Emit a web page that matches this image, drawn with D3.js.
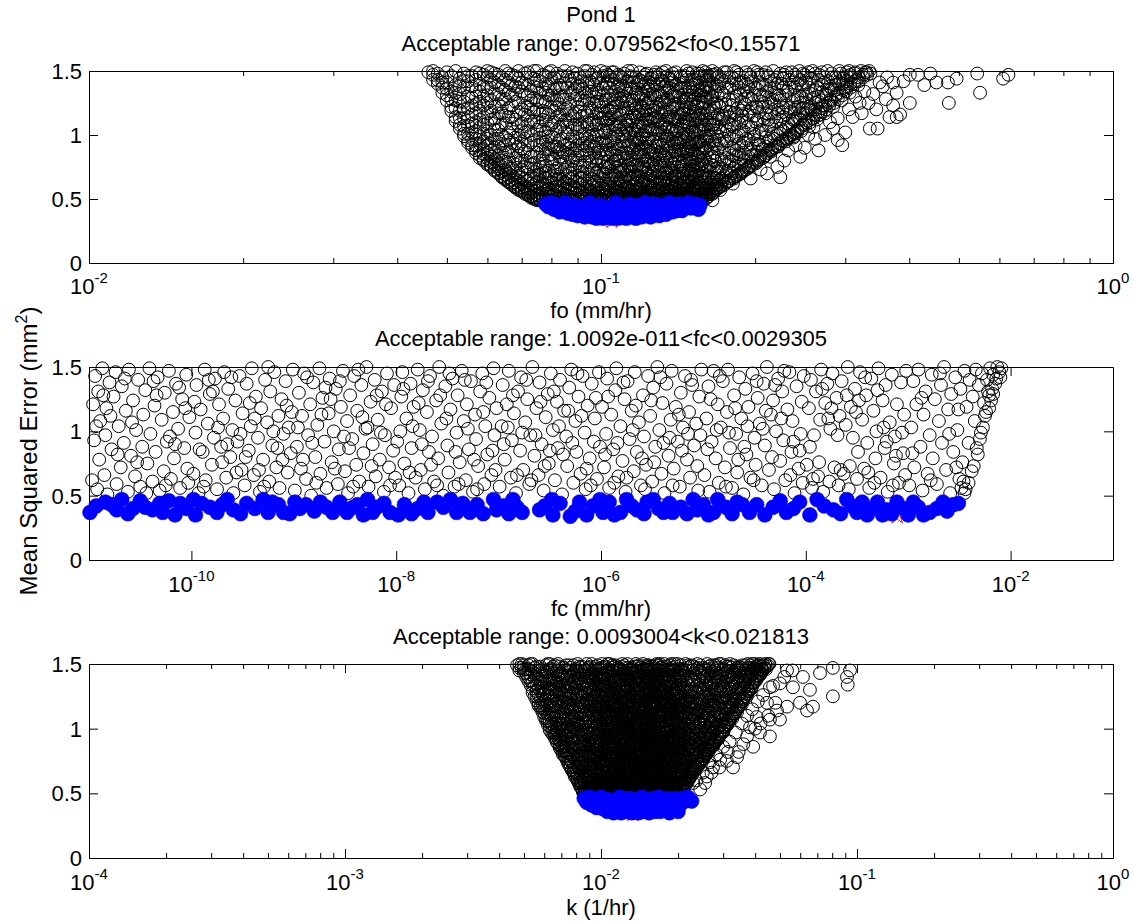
<!DOCTYPE html>
<html>
<head>
<meta charset="utf-8">
<script src="https://cdn.jsdelivr.net/npm/d3@7"></script>
<style>
  body { margin: 0; background: #fff; }
  svg { display: block; }
  text { font-family: "Liberation Sans", Arial, Helvetica, sans-serif; fill: #000; }
</style>
</head>
<body>
<svg id="chart" width="1135" height="923"></svg>
<script>
// ---------------------------------------------------------------------------
// Calibration results for Pond 1: every trial parameter set and its mean
// squared error. Flat pairs [parameter, MSE]; MSE is stored in 0.01 mm².
// ---------------------------------------------------------------------------
const MSE_UNIT = 0.01;
const yTickValues = [0, 0.5, 1, 1.5];
const yTickLabels = ["0", "0.5", "1", "1.5"];

// fo trials, fo stored in µm/hr (0.001 mm/hr)
const foTickExps = [-2, -1, 0];
const foTitle = "Acceptable range: 0.079562<fo<0.15571";
const foBlack = [
  46,149, 47,147, 47,150, 48,143, 48,148, 49,137, 49,145, 50,131, 50,141, 50,149,
  51,122, 51,134, 51,146, 52,114, 52,127, 52,139, 52,150, 53,108, 53,119, 53,132, 53,144,
  54,101, 54,113, 54,126, 54,137, 54,148, 55,96, 55,107, 55,121, 55,142,
  56,92, 56,102, 56,116, 56,129, 56,146, 57,88, 57,97, 57,110, 57,124, 57,135, 57,149,
  58,84, 58,93, 58,106, 58,119, 58,140, 59,81, 59,89, 59,101, 59,114, 59,130, 59,147,
  60,78, 60,86, 60,97, 60,109, 60,125, 60,137, 60,150, 61,76, 61,83, 61,93, 61,119, 61,143,
  62,73, 62,81, 62,90, 62,104, 62,113, 62,132, 62,148, 63,71, 63,78, 63,97, 63,124, 63,139,
  64,68, 64,75, 64,86, 64,100, 64,117, 64,128, 64,145, 65,66, 65,73, 65,92, 65,109, 65,135, 65,150,
  66,64, 66,70, 66,81, 66,96, 66,121, 66,141, 67,62, 67,68, 67,88, 67,105, 67,114, 67,131, 67,147,
  68,60, 68,66, 68,77, 68,93, 68,126, 68,138, 69,58, 69,64, 69,84, 69,100, 69,118, 69,144, 69,150,
  70,57, 70,62, 70,73, 70,89, 70,109, 70,134, 71,55, 71,60, 71,80, 71,97, 71,123, 71,140, 71,148,
  72,54, 72,58, 72,69, 72,86, 72,103, 72,115, 72,131, 73,52, 73,62, 73,77, 73,94, 73,127, 73,145,
  74,51, 74,56, 74,66, 74,83, 74,111, 74,138, 74,150, 75,50, 75,59, 75,73, 75,92, 75,104, 75,120, 75,143,
  76,49, 76,54, 76,64, 76,80, 76,98, 76,133, 77,49, 77,58, 77,70, 77,87, 77,112, 77,126, 77,147,
  78,50, 78,61, 78,76, 78,95, 78,118, 78,140, 79,49, 79,55, 79,67, 79,84, 79,105, 79,131, 79,149,
  80,52, 80,63, 80,79, 80,99, 80,122, 80,144, 81,49, 81,57, 81,72, 81,91, 81,110, 81,136,
  82,50, 82,60, 82,69, 82,86, 82,103, 82,127, 82,148, 83,48, 83,55, 83,77, 83,96, 83,116, 83,139,
  84,51, 84,65, 84,82, 84,108, 84,130, 84,146, 85,49, 85,58, 85,73, 85,92, 85,120, 85,150,
  86,53, 86,62, 86,85, 86,101, 86,112, 86,137, 87,49, 87,56, 87,70, 87,95, 87,125, 87,143,
  88,51, 88,67, 88,80, 88,106, 88,133, 88,149, 89,48, 89,59, 89,75, 89,89, 89,117, 89,128,
  90,50, 90,63, 91,71, 90,84, 91,97, 90,105, 91,118, 90,131, 91,139, 90,148, 91,55, 90,122,
  92,48, 93,58, 92,76, 93,88, 92,93, 93,110, 92,115, 93,127, 92,136, 93,146, 92,66, 93,101,
  94,52, 95,49, 94,69, 95,79, 94,86, 95,99, 94,108, 95,121, 94,129, 95,142, 94,150, 95,62,
  96,55, 97,50, 98,64, 96,73, 97,91, 98,100, 96,112, 97,124, 98,133, 96,141, 97,149, 98,82,
  99,48, 100,59, 101,70, 99,80, 100,94, 101,104, 99,117, 100,126, 101,137, 99,145, 100,150, 101,88,
  102,53, 103,49, 104,62, 102,75, 103,85, 104,96, 102,109, 103,119, 104,128, 102,140, 103,147, 104,113,
  105,51, 106,57, 107,68, 105,78, 106,90, 107,101, 105,114, 106,122, 107,134, 105,143, 106,149, 107,84,
  108,49, 109,60, 110,54, 108,72, 109,83, 110,95, 108,106, 109,116, 110,125, 108,138, 109,146, 110,131,
  111,52, 112,48, 113,63, 111,67, 112,80, 113,92, 111,99, 112,111, 113,121, 111,130, 112,142, 113,150,
  114,56, 115,50, 116,61, 114,74, 115,87, 116,98, 114,108, 115,117, 116,129, 114,136, 115,145, 116,81,
  117,49, 118,58, 119,52, 117,69, 118,77, 119,89, 117,103, 118,110, 119,123, 117,133, 118,141, 119,149,
  120,54, 121,48, 122,60, 120,71, 121,83, 122,94, 120,100, 121,115, 122,119, 120,128, 121,138, 122,147,
  123,51, 124,57, 125,49, 123,66, 124,79, 125,86, 123,97, 124,107, 125,116, 123,125, 124,136, 125,144,
  126,53, 127,48, 128,61, 126,70, 127,81, 128,92, 126,104, 127,113, 128,122, 126,132, 127,140, 128,149,
  129,50, 130,58, 131,52, 132,64, 129,73, 130,85, 131,96, 132,102, 129,111, 130,124, 131,131, 132,142, 130,147,
  133,49, 134,55, 135,62, 136,50, 133,76, 134,88, 135,99, 136,106, 133,118, 134,127, 135,135, 136,144, 134,150,
  137,52, 138,58, 139,49, 140,63, 137,72, 138,84, 139,93, 140,103, 137,112, 138,121, 139,130, 140,139, 138,148,
  141,50, 142,56, 143,66, 144,53, 141,75, 142,89, 143,97, 144,108, 141,117, 142,125, 143,136, 144,145,
  145,49, 146,57, 147,51, 148,61, 145,70, 146,81, 147,92, 148,100, 145,110, 146,120, 147,128, 148,138, 146,146, 147,150,
  149,53, 150,48, 151,59, 152,55, 149,67, 150,79, 151,88, 152,97, 149,106, 150,115, 151,126, 152,133, 150,143, 151,149,
  153,50, 154,57, 155,52, 156,62, 153,72, 154,84, 155,94, 156,103, 153,112, 154,122, 155,131, 156,141, 154,148,
  157,51, 158,56, 159,63, 160,54, 157,74, 158,86, 159,96, 160,107, 157,116, 158,125, 159,135, 160,143, 158,150,
  161,53, 163,58, 165,55, 162,66, 164,77, 161,88, 163,99, 165,108, 162,118, 164,128, 161,137, 163,146, 165,150,
  166,57, 168,61, 170,59, 167,70, 169,82, 166,93, 168,101, 170,113, 167,121, 169,131, 166,140, 168,148, 170,138,
  171,60, 173,64, 176,63, 172,74, 174,86, 176,95, 171,103, 173,115, 175,124, 172,133, 174,142, 176,149, 175,107,
  177,64, 179,68, 182,66, 178,79, 180,90, 182,99, 177,110, 179,118, 181,127, 178,137, 180,145, 182,150, 181,84,
  183,68, 185,72, 188,70, 184,83, 186,93, 188,104, 183,112, 185,121, 187,132, 184,140, 186,147, 188,126,
  189,72, 191,76, 194,74, 190,86, 192,97, 194,107, 189,115, 191,124, 193,134, 190,142, 192,149, 194,130,
  195,76, 198,79, 201,78, 196,89, 199,99, 201,110, 195,118, 197,128, 200,137, 196,145, 199,150, 201,122,
  202,80, 205,84, 208,83, 203,93, 206,104, 208,113, 202,121, 204,131, 207,139, 203,147, 206,126,
  209,84, 212,88, 215,87, 210,98, 213,107, 215,117, 209,125, 211,134, 214,142, 210,149, 213,129,
  216,89, 219,92, 222,91, 217,101, 220,111, 222,120, 216,128, 218,137, 221,145, 217,150, 220,132,
  223,93, 226,96, 230,95, 224,105, 227,114, 230,123, 223,131, 225,140, 228,147, 226,118,
  231,97, 234,100, 238,99, 232,109, 235,118, 238,127, 231,134, 233,143, 236,149, 237,112,
  239,101, 242,104, 246,103, 240,113, 243,122, 246,130, 239,137, 241,145, 244,150, 245,117,
  247,105, 251,108, 255,107, 248,117, 252,125, 255,133, 247,140, 250,147, 253,120,
  256,110, 260,113, 264,112, 257,121, 261,129, 264,137, 256,144, 259,150, 262,125,
  265,115, 269,118, 274,117, 266,126, 270,133, 273,141, 267,147, 271,123,
  275,120, 279,123, 284,122, 276,131, 280,138, 283,145, 277,150, 281,128,
  285,125, 290,128, 295,127, 286,135, 291,142, 294,148, 288,132,
  296,131, 301,134, 306,133, 297,140, 302,146, 305,150, 299,137,
  307,137, 312,140, 318,139, 309,145, 314,149, 316,143,
  319,142, 325,145, 331,147, 322,150, 328,149, 334,150, 336,148,
  47,143, 48,140, 49,133, 49,141, 50,127, 50,136, 51,119, 51,128, 52,111, 52,121, 52,133, 53,105, 53,113, 53,126, 53,138,
  54,99, 54,107, 54,120, 54,142, 55,94, 55,101, 55,114, 55,130, 55,146, 56,90, 56,97, 56,109, 56,123, 56,138,
  57,86, 57,92, 57,103, 57,117, 57,130, 57,143, 58,82, 58,88, 58,99, 58,112, 58,126, 58,134, 58,148,
  59,80, 59,85, 59,95, 59,108, 59,123, 59,138, 60,77, 60,82, 60,92, 60,103, 60,117, 60,131, 60,145,
  61,75, 61,79, 61,88, 61,100, 61,112, 61,127, 61,137, 61,149, 62,72, 62,77, 62,86, 62,97, 62,109, 62,122, 62,141,
  63,70, 63,74, 63,84, 63,91, 63,104, 63,117, 63,132, 63,147, 64,67, 64,72, 64,80, 64,93, 64,108, 64,122, 64,137,
  65,65, 65,69, 65,79, 65,86, 65,98, 65,115, 65,128, 65,143, 66,63, 66,67, 66,75, 66,87, 66,102, 66,114, 66,133, 66,148,
  67,61, 67,65, 67,74, 67,94, 67,109, 67,123, 67,139, 68,59, 68,63, 68,71, 68,82, 68,98, 68,112, 68,132, 68,146,
  69,57, 69,61, 69,70, 69,78, 69,91, 69,107, 69,125, 69,137, 70,56, 70,59, 70,67, 70,80, 70,95, 70,103, 70,120, 70,141,
  71,54, 71,58, 71,66, 71,75, 71,87, 71,102, 71,116, 71,131, 72,53, 72,56, 72,64, 72,74, 72,92, 72,108, 72,122, 72,139, 72,149,
  73,51, 73,55, 73,58, 73,66, 73,83, 73,100, 73,111, 73,120, 73,134, 74,50, 74,53, 74,61, 74,71, 74,78, 74,96, 74,118, 74,129, 74,144,
  75,49, 75,53, 75,63, 75,68, 75,86, 75,110, 75,127, 75,137, 75,150, 76,50, 76,52, 76,59, 76,69, 76,75, 76,92, 76,107, 76,116, 76,126, 76,142,
  77,51, 77,54, 77,62, 77,75, 77,82, 77,94, 77,104, 77,119, 77,136, 78,48, 78,54, 78,57, 78,66, 78,71, 78,89, 78,102, 78,111, 78,126, 78,133, 78,146,
  79,52, 79,58, 79,72, 79,89, 79,99, 79,116, 79,138, 80,49, 80,56, 80,68, 80,85, 80,92, 80,108, 80,131, 80,150,
  81,53, 81,62, 81,66, 81,81, 81,98, 81,119, 81,128, 81,145, 82,48, 82,56, 82,65, 82,74, 82,91, 82,114, 82,121, 82,137,
  83,52, 83,60, 83,66, 83,83, 83,89, 83,106, 83,124, 83,131, 83,145, 84,48, 84,55, 84,60, 84,71, 84,87, 84,97, 84,116, 84,137,
  85,52, 85,54, 85,63, 85,79, 85,86, 85,102, 85,111, 85,128, 85,140, 86,48, 86,57, 86,68, 86,75, 86,93, 86,106, 86,121, 86,146,
  87,52, 87,61, 87,66, 87,83, 87,90, 87,110, 87,117, 87,132, 88,49, 88,55, 88,58, 88,73, 88,88, 88,99, 88,115, 88,140,
  89,51, 89,55, 89,64, 89,82, 89,95, 89,108, 89,136, 89,144, 90,53, 90,57, 90,68, 90,78, 90,92, 90,112, 90,138,
  91,49, 91,61, 91,66, 91,76, 91,88, 91,107, 91,128, 91,145, 92,51, 92,55, 92,62, 92,71, 92,84, 92,99, 92,106, 92,124, 92,142,
  93,50, 93,53, 93,64, 93,79, 93,94, 93,118, 93,133, 93,150, 94,48, 94,56, 94,60, 94,74, 94,91, 94,97, 94,115, 94,140,
  95,53, 95,57, 95,67, 95,84, 95,92, 95,109, 95,127, 95,134, 96,49, 96,52, 96,60, 96,66, 96,80, 96,95, 96,104, 96,119, 96,134, 96,147,
  97,53, 97,56, 97,63, 97,73, 97,86, 97,98, 97,110, 97,130, 97,139, 98,48, 98,52, 98,59, 98,70, 98,77, 98,93, 98,108, 98,117, 98,126, 98,144,
  99,51, 99,55, 99,62, 99,68, 99,86, 99,99, 99,109, 99,123, 99,133, 100,49, 100,52, 100,66, 100,72, 100,82, 100,88, 100,103, 100,113, 100,119, 100,140,
  101,50, 101,54, 101,58, 101,65, 101,79, 101,96, 101,113, 101,122, 101,131, 101,146, 102,48, 102,57, 102,62, 102,69, 102,85, 102,93, 102,102, 102,117, 102,127, 102,149,
  103,52, 103,55, 103,61, 103,74, 103,79, 103,92, 103,107, 103,112, 103,133, 103,141, 104,50, 104,53, 104,57, 104,68, 104,75, 104,89, 104,103, 104,119, 104,137, 104,146,
  105,48, 105,55, 105,59, 105,66, 105,72, 105,86, 105,95, 105,108, 105,121, 105,131, 105,149, 106,50, 106,53, 106,62, 106,69, 106,79, 106,97, 106,108, 106,116, 106,128, 106,140,
  107,48, 107,55, 107,59, 107,75, 107,80, 107,93, 107,107, 107,118, 107,127, 107,145, 108,52, 108,56, 108,62, 108,66, 108,80, 108,89, 108,99, 108,113, 108,125, 108,132, 108,147,
  109,50, 109,54, 109,65, 109,71, 109,76, 109,91, 109,104, 109,110, 109,128, 109,139, 110,48, 110,51, 110,58, 110,64, 110,72, 110,86, 110,101, 110,117, 110,138, 110,145,
  111,49, 111,56, 111,60, 111,73, 111,82, 111,91, 111,106, 111,121, 111,136, 111,148, 112,51, 112,54, 112,59, 112,69, 112,75, 112,86, 112,96, 112,104, 112,117, 112,127, 112,135,
  113,49, 113,53, 113,59, 113,68, 113,76, 113,86, 113,101, 113,112, 113,128, 113,142, 114,48, 114,51, 114,60, 114,66, 114,81, 114,92, 114,101, 114,114, 114,124, 114,146,
  115,53, 115,57, 115,66, 115,71, 115,77, 115,94, 115,104, 115,111, 115,127, 115,137, 115,150, 116,48, 116,51, 116,56, 116,67, 116,75, 116,89, 116,104, 116,115, 116,123, 116,141,
  117,53, 117,56, 117,62, 117,76, 117,82, 117,92, 117,97, 117,114, 117,121, 117,145, 118,50, 118,53, 118,63, 118,68, 118,86, 118,94, 118,104, 118,118, 118,131, 118,136,
  119,48, 119,56, 119,60, 119,67, 119,74, 119,83, 119,97, 119,107, 119,116, 119,129, 119,143, 120,51, 120,58, 120,64, 120,77, 120,87, 120,93, 120,109, 120,122, 120,133, 120,142,
  121,52, 121,55, 121,63, 121,75, 121,89, 121,100, 121,107, 121,121, 121,131, 121,145, 122,50, 122,53, 122,65, 122,73, 122,80, 122,90, 122,103, 122,112, 122,127, 122,140,
  123,48, 123,55, 123,61, 123,70, 123,80, 123,91, 123,103, 123,112, 123,119, 123,134, 123,148, 124,50, 124,53, 124,63, 124,69, 124,74, 124,87, 124,97, 124,112, 124,125, 124,141,
  125,52, 125,55, 125,59, 125,68, 125,78, 125,91, 125,105, 125,111, 125,129, 125,138, 126,48, 126,50, 126,58, 126,63, 126,77, 126,85, 126,97, 126,113, 126,122, 126,145,
  127,51, 127,55, 127,66, 127,74, 127,88, 127,95, 127,105, 127,119, 127,131, 127,147, 128,49, 128,53, 128,57, 128,67, 128,76, 128,84, 128,101, 128,114, 128,129, 128,139,
  129,53, 129,56, 129,62, 129,68, 129,81, 129,91, 129,104, 129,118, 129,134, 129,145, 130,49, 130,52, 130,63, 130,71, 130,78, 130,94, 130,101, 130,112, 130,131, 130,140,
  131,48, 131,61, 131,66, 131,76, 131,87, 131,106, 131,117, 131,126, 131,143, 132,50, 132,54, 132,58, 132,70, 132,80, 132,92, 132,109, 132,121, 132,133, 132,149,
  133,52, 133,56, 133,63, 133,70, 133,84, 133,95, 133,106, 133,125, 133,138, 134,49, 134,60, 134,67, 134,72, 134,82, 134,99, 134,112, 134,120, 134,139,
  135,50, 135,53, 135,57, 135,70, 135,81, 135,92, 135,106, 135,114, 135,128, 135,146, 136,53, 136,56, 136,65, 136,74, 136,86, 136,97, 136,114, 136,124, 136,137,
  137,48, 137,56, 137,60, 137,66, 137,80, 137,91, 137,103, 137,118, 137,133, 137,143, 138,50, 138,53, 138,63, 138,70, 138,78, 138,95, 138,104, 138,113, 138,131, 138,141,
  139,52, 139,55, 139,58, 139,68, 139,77, 139,87, 139,101, 139,113, 139,124, 139,145, 140,49, 140,57, 140,68, 140,81, 140,88, 140,97, 140,112, 140,124, 140,130, 140,149,
  141,53, 141,56, 141,63, 141,68, 141,84, 141,94, 141,104, 141,111, 141,134, 142,49, 142,52, 142,60, 142,72, 142,79, 142,94, 142,114, 142,131, 142,140,
  143,49, 143,54, 143,61, 143,75, 143,85, 143,92, 143,105, 143,116, 143,129, 143,146, 144,50, 144,58, 144,63, 144,70, 144,78, 144,88, 144,100, 144,121, 144,137,
  145,52, 145,58, 145,62, 145,76, 145,87, 145,95, 145,104, 145,117, 145,126, 145,141, 146,51, 146,54, 146,64, 146,73, 146,89, 146,101, 146,113, 146,126, 146,137,
  147,48, 147,55, 147,60, 147,68, 147,80, 147,87, 147,99, 147,110, 147,122, 147,143, 148,50, 148,53, 148,65, 148,72, 148,87, 148,94, 148,107, 148,116, 148,131, 148,148,
  149,48, 149,56, 149,62, 149,74, 149,81, 149,94, 149,112, 149,121, 149,136, 150,51, 150,55, 150,63, 150,70, 150,85, 150,91, 150,102, 150,124, 150,131,
  151,50, 151,54, 151,66, 151,73, 151,79, 151,95, 151,103, 151,112, 151,137, 152,48, 152,51, 152,58, 152,69, 152,77, 152,85, 152,102, 152,118, 152,128, 152,143,
  153,53, 153,56, 153,60, 153,67, 153,81, 153,93, 153,101, 153,118, 153,129, 153,140, 154,49, 154,53, 154,61, 154,69, 154,77, 154,94, 154,107, 154,114, 154,135,
  155,50, 155,56, 155,63, 155,74, 155,83, 155,89, 155,104, 155,115, 155,125, 155,145, 156,49, 156,53, 156,57, 156,68, 156,77, 156,86, 156,95, 156,113, 156,127, 156,135, 156,148,
  157,49, 157,54, 157,59, 157,68, 157,80, 157,92, 157,103, 157,111, 157,131, 157,146, 158,50, 158,53, 158,61, 158,70, 158,78, 158,92, 158,108, 158,117, 158,137,
  159,52, 159,55, 159,58, 159,68, 159,81, 159,89, 159,104, 159,121, 159,130, 159,146, 160,50, 160,58, 160,66, 160,76, 160,90, 160,99, 160,115, 160,126, 160,138, 160,149,
  161,51, 161,59, 161,72, 161,97, 161,112, 161,129, 161,146, 162,52, 162,61, 162,75, 162,92, 162,104, 162,133, 162,143, 163,54, 163,67, 163,82, 163,110, 163,122, 163,139,
  164,56, 164,63, 164,71, 164,89, 164,104, 164,117, 164,136, 164,147, 165,54, 165,61, 165,83, 165,95, 165,119, 165,130, 166,55, 166,66, 166,76, 166,86, 166,108, 166,124, 166,147,
  167,57, 167,63, 167,80, 167,96, 167,113, 167,134, 168,58, 168,66, 168,74, 168,92, 168,108, 168,125, 168,139, 169,58, 169,61, 169,71, 169,89, 169,99, 169,116, 169,145,
  170,59, 170,64, 170,75, 170,96, 170,106, 170,123, 170,146, 172,60, 172,66, 172,81, 172,93, 172,112, 172,125, 172,143, 174,61, 174,68, 174,79, 174,97, 174,113, 174,131, 174,149,
  176,63, 176,71, 176,82, 176,103, 176,118, 176,137, 178,64, 178,72, 178,86, 178,100, 178,114, 178,128, 178,145, 180,66, 180,70, 180,80, 180,97, 180,108, 180,123, 180,139,
  182,67, 182,74, 182,89, 182,106, 182,117, 182,133, 182,144, 184,68, 184,76, 184,88, 184,99, 184,116, 184,130, 184,149, 186,69, 186,78, 186,85, 186,100, 186,109, 186,137,
  188,71, 188,77, 188,92, 188,111, 188,119, 188,141, 190,72, 190,80, 190,94, 190,103, 190,121, 190,135, 192,73, 192,79, 192,90, 192,110, 192,128, 192,140,
  194,75, 194,83, 194,96, 194,116, 194,138, 194,147, 197,76, 197,84, 197,93, 197,106, 197,121, 197,142, 199,78, 199,85, 199,101, 199,115, 199,131,
  202,79, 202,87, 202,96, 202,112, 202,136, 202,149, 204,81, 204,92, 204,102, 204,118, 204,141, 207,82, 207,89, 207,108, 207,122, 207,131, 207,147,
  210,84, 210,91, 210,103, 210,117, 210,139, 212,86, 212,95, 212,112, 212,122, 212,146, 215,88, 215,96, 215,108, 215,125, 215,136,
  218,90, 218,97, 218,114, 218,124, 218,143, 221,91, 221,100, 221,117, 221,131, 221,140, 224,93, 224,101, 224,112, 224,127, 224,148,
  227,95, 227,103, 227,121, 227,137, 227,144, 230,97, 230,106, 230,116, 230,131, 230,149, 233,98, 233,104, 233,121, 233,137,
  236,100, 236,109, 236,126, 236,141, 239,102, 239,111, 239,120, 239,131, 239,147, 242,103, 242,114, 242,129, 242,140,
  245,106, 245,112, 245,125, 245,143, 248,108, 248,121, 248,135, 248,148, 251,110, 251,117, 251,130, 251,141, 254,111, 254,122, 254,137, 254,149,
  258,113, 258,119, 258,132, 258,144, 262,116, 262,120, 262,135, 262,148, 266,118, 266,130, 266,143, 270,121, 270,127, 270,139, 270,149,
  274,123, 274,132, 274,145, 278,125, 278,135, 278,142, 282,127, 282,136, 282,148, 287,130, 287,139, 287,145, 292,133, 292,140, 292,150,
  297,135, 297,144, 302,138, 302,142, 302,149, 307,140, 307,147, 313,142, 313,148, 319,145, 325,147, 330,149,
  // sparse runs above the main cloud
  224,67, 245,83, 232,88, 266,88, 240,92, 254,100, 274,100, 284,105, 296,92, 300,102,
  290,96, 310,114, 335,105, 347,105, 323,117, 333,125, 345,120, 366,114, 378,114, 384,116,
  372,123, 378,133, 372,141, 362,145, 401,125, 401,147, 416,147, 428,139, 452,141, 476,141,
  495,144, 478,125, 543,148, 550,133, 610,144, 625,147, 314,130, 327,134, 350,141, 268,116,
  260,106, 280,110, 238,98, 214,83, 211,70, 221,75, 181,62, 171,57, 165,49, 196,66,
  205,73, 228,80, 250,90, 262,97, 290,113, 305,120, 320,125, 340,132, 355,138, 390,142,
  440,148, 360,128
];
const foBlue = [
  78,46, 79,44, 80,47, 81,42, 82,45, 83,40, 84,43, 85,47, 86,39, 87,42, 88,38, 89,45,
  90,37, 91,41, 92,44, 93,36, 94,39, 95,47, 96,36, 97,42, 98,35, 99,38, 100,45, 101,35,
  102,40, 103,36, 104,43, 105,35, 106,38, 107,47, 108,35, 109,41, 110,36, 111,44, 112,35,
  113,39, 114,46, 115,36, 116,42, 117,35, 118,38, 119,45, 120,36, 121,41, 122,47, 123,37,
  124,43, 125,36, 126,39, 127,46, 128,38, 129,42, 130,37, 131,45, 132,40, 134,38, 135,43,
  136,47, 138,40, 139,44, 141,41, 142,46, 144,41, 146,44, 148,47, 150,43, 153,46, 156,45, 155,42
];
const foBest = [0.105, 0.335];   // fo (mm/hr), MSE (mm²)

// fc trials, stored as log10 of fc (mm/hr)
const fcTickExps = [-10, -8, -6, -4, -2];
const fcTitle = "Acceptable range: 1.0092e-011<fc<0.0029305";
const fcLogBlack = [
  -10.97,62, -10.95,93, -10.96,121, -10.94,143, -10.92,55, -10.90,78, -10.89,108, -10.91,131, -10.87,149, -10.85,66,
  -10.84,97, -10.83,118, -10.80,138, -10.82,51, -10.78,86, -10.76,127, -10.74,146, -10.73,59, -10.71,104, -10.69,72,
  -10.68,135, -10.66,91, -10.64,116, -10.62,53, -10.61,148, -10.59,81, -10.57,124, -10.55,65, -10.54,101, -10.52,140,
  -10.50,57, -10.48,88, -10.47,113, -10.45,132, -10.43,75, -10.41,149, -10.40,98, -10.38,61, -10.36,120, -10.35,84,
  -10.33,142, -10.31,54, -10.29,109, -10.27,69, -10.26,130, -10.24,92, -10.22,147, -10.20,63, -10.18,115, -10.17,79,
  -10.15,137, -10.13,102, -10.11,56, -10.09,125, -10.07,87, -10.05,144, -10.04,71, -10.02,111, -10.93,104, -10.79,112,
  -10.65,141, -10.58,107, -10.44,52, -10.34,128, -10.21,96, -10.12,134, -10.03,60, -10.86,128, -10.72,82, -10.53,76,
  -10.37,139, -10.25,58, -10.16,90, -10.06,118,
  -9.98,67, -9.96,99, -9.95,136, -9.93,52, -9.91,117, -9.89,84, -9.87,148, -9.86,62, -9.84,106, -9.82,129,
  -9.80,74, -9.78,95, -9.77,141, -9.75,55, -9.73,121, -9.71,88, -9.69,110, -9.68,146, -9.66,64, -9.64,133,
  -9.62,80, -9.60,101, -9.59,52, -9.57,124, -9.55,92, -9.53,143, -9.51,70, -9.50,114, -9.48,58, -9.46,137,
  -9.44,85, -9.42,104, -9.41,149, -9.39,66, -9.37,127, -9.35,95, -9.33,53, -9.32,118, -9.30,78, -9.28,140,
  -9.26,107, -9.24,61, -9.23,131, -9.21,89, -9.19,146, -9.17,72, -9.15,112, -9.14,56, -9.12,125, -9.10,98,
  -9.08,139, -9.06,68, -9.05,103, -9.03,83, -9.01,148, -9.97,123, -9.88,57, -9.79,131, -9.70,76, -9.61,142,
  -9.52,98, -9.43,122, -9.34,70, -9.25,150, -9.16,87, -9.07,120, -9.92,86, -9.83,140, -9.74,103, -9.65,90,
  -9.56,68, -9.47,80, -9.38,110, -9.29,57, -9.20,100, -9.11,78, -9.02,115,
  -8.99,54, -8.97,88, -8.95,130, -8.93,71, -8.92,112, -8.90,145, -8.88,63, -8.86,97, -8.84,121, -8.83,50,
  -8.81,138, -8.79,80, -8.77,105, -8.75,149, -8.74,67, -8.72,126, -8.70,92, -8.68,56, -8.66,114, -8.65,141,
  -8.63,76, -8.61,100, -8.59,133, -8.57,59, -8.56,86, -8.54,119, -8.52,147, -8.50,69, -8.48,108, -8.47,52,
  -8.45,128, -8.43,94, -8.41,143, -8.39,74, -8.38,116, -8.36,61, -8.34,136, -8.32,83, -8.30,102, -8.29,150,
  -8.27,57, -8.25,123, -8.23,90, -8.21,140, -8.20,65, -8.18,109, -8.16,78, -8.14,131, -8.12,53, -8.11,97,
  -8.09,145, -8.07,72, -8.05,118, -8.03,85, -8.02,136, -8.96,103, -8.87,142, -8.78,60, -8.69,134, -8.60,71,
  -8.51,96, -8.42,57, -8.33,111, -8.24,73, -8.15,99, -8.06,58, -8.91,78, -8.82,91, -8.73,113, -8.64,125,
  -8.55,139, -8.46,87, -8.37,148, -8.28,103, -8.19,128, -8.10,121, -8.01,64,
  -7.99,92, -7.97,58, -7.95,127, -7.94,146, -7.92,75, -7.90,110, -7.88,52, -7.86,137, -7.85,87, -7.83,119,
  -7.81,64, -7.79,148, -7.77,101, -7.76,70, -7.74,132, -7.72,55, -7.70,115, -7.68,84, -7.67,143, -7.65,96,
  -7.63,61, -7.61,124, -7.59,79, -7.58,150, -7.56,106, -7.54,50, -7.52,135, -7.50,89, -7.49,68, -7.47,117,
  -7.45,141, -7.43,57, -7.41,99, -7.40,128, -7.38,76, -7.36,147, -7.34,108, -7.32,62, -7.31,121, -7.29,86,
  -7.27,139, -7.25,53, -7.23,113, -7.22,94, -7.20,73, -7.18,131, -7.16,145, -7.14,59, -7.13,104, -7.11,82,
  -7.09,126, -7.07,66, -7.05,149, -7.04,97, -7.02,118, -7.96,100, -7.87,68, -7.78,122, -7.69,139, -7.60,58,
  -7.51,110, -7.42,84, -7.33,140, -7.24,78, -7.15,115, -7.06,85, -7.93,133, -7.84,104, -7.75,90, -7.66,74,
  -7.57,128, -7.48,145, -7.39,59, -7.30,102, -7.21,55, -7.12,138, -7.03,70,
  -6.99,57, -6.97,104, -6.96,136, -6.94,78, -6.92,121, -6.90,147, -6.88,64, -6.87,93, -6.85,114, -6.83,52,
  -6.81,131, -6.79,85, -6.78,142, -6.76,70, -6.74,107, -6.72,125, -6.70,59, -6.69,97, -6.67,150, -6.65,81,
  -6.63,118, -6.61,66, -6.60,138, -6.58,90, -6.56,54, -6.54,111, -6.52,129, -6.51,75, -6.49,145, -6.47,101,
  -6.45,62, -6.43,123, -6.42,87, -6.40,140, -6.38,51, -6.36,116, -6.34,96, -6.33,73, -6.31,134, -6.29,148,
  -6.27,60, -6.25,108, -6.24,84, -6.22,127, -6.20,67, -6.18,143, -6.16,99, -6.15,55, -6.13,120, -6.11,79,
  -6.09,137, -6.07,92, -6.06,110, -6.04,63, -6.02,146, -6.95,90, -6.86,128, -6.77,99, -6.68,62, -6.59,123,
  -6.50,85, -6.41,104, -6.32,116, -6.23,145, -6.14,71, -6.05,126, -6.91,103, -6.82,66, -6.73,140, -6.64,97,
  -6.55,73, -6.46,131, -6.37,82, -6.28,91, -6.19,112, -6.10,58, -6.01,88,
  -5.99,119, -5.97,72, -5.95,98, -5.94,141, -5.92,56, -5.90,113, -5.88,86, -5.86,132, -5.85,149, -5.83,65,
  -5.81,104, -5.79,77, -5.77,125, -5.76,53, -5.74,139, -5.72,94, -5.70,116, -5.68,69, -5.67,146, -5.65,84,
  -5.63,107, -5.61,58, -5.59,128, -5.58,96, -5.56,74, -5.54,143, -5.52,112, -5.50,61, -5.49,134, -5.47,88,
  -5.45,150, -5.43,101, -5.41,67, -5.40,122, -5.38,52, -5.36,137, -5.34,81, -5.32,109, -5.31,147, -5.29,71,
  -5.27,119, -5.25,92, -5.23,57, -5.22,130, -5.20,103, -5.18,143, -5.16,78, -5.14,115, -5.13,64, -5.11,136,
  -5.09,89, -5.07,106, -5.05,54, -5.04,127, -5.02,148, -5.96,82, -5.87,60, -5.78,138, -5.69,101, -5.60,79,
  -5.51,124, -5.42,142, -5.33,95, -5.24,113, -5.15,98, -5.06,73, -5.93,127, -5.84,91, -5.75,64, -5.66,120,
  -5.57,55, -5.48,76, -5.39,91, -5.30,58, -5.21,85, -5.12,140, -5.03,97,
  -4.99,66, -4.97,110, -4.95,135, -4.94,53, -4.92,92, -4.90,147, -4.88,79, -4.86,121, -4.85,60, -4.83,103,
  -4.81,139, -4.79,72, -4.77,115, -4.76,148, -4.74,87, -4.72,56, -4.70,128, -4.68,98, -4.67,68, -4.65,142,
  -4.63,110, -4.61,51, -4.59,133, -4.58,82, -4.56,119, -4.54,64, -4.52,145, -4.50,95, -4.49,74, -4.47,126,
  -4.45,106, -4.43,58, -4.41,137, -4.40,89, -4.38,150, -4.36,70, -4.34,113, -4.32,124, -4.31,55, -4.29,100,
  -4.27,141, -4.25,77, -4.23,131, -4.22,93, -4.20,62, -4.18,117, -4.16,146, -4.14,84, -4.13,108, -4.11,52,
  -4.09,135, -4.07,71, -4.05,98, -4.04,123, -4.02,143, -4.96,86, -4.87,101, -4.78,57, -4.69,118, -4.60,88,
  -4.51,62, -4.42,102, -4.33,80, -4.24,110, -4.15,66, -4.06,85, -4.93,125, -4.84,143, -4.75,99, -4.66,78,
  -4.57,104, -4.48,139, -4.39,116, -4.30,136, -4.21,147, -4.12,92, -4.03,60,
  -3.99,74, -3.97,118, -3.95,140, -3.94,56, -3.92,97, -3.90,131, -3.88,65, -3.86,109, -3.85,148, -3.83,53,
  -3.81,122, -3.79,137, -3.77,61, -3.76,102, -3.74,145, -3.72,72, -3.70,126, -3.68,58, -3.67,112, -3.65,139,
  -3.63,67, -3.61,105, -3.59,150, -3.58,55, -3.56,119, -3.54,95, -3.52,133, -3.50,63, -3.49,84, -3.47,146,
  -3.45,109, -3.43,71, -3.41,128, -3.40,91, -3.38,56, -3.36,141, -3.34,116, -3.32,79, -3.31,100, -3.29,149,
  -3.27,64, -3.25,124, -3.23,87, -3.22,136, -3.20,53, -3.18,107, -3.16,144, -3.14,75, -3.13,96, -3.11,121,
  -3.09,60, -3.07,138, -3.05,83, -3.04,113, -3.02,147, -3.96,88, -3.87,76, -3.78,110, -3.69,97, -3.60,128,
  -3.51,115, -3.42,142, -3.33,60, -3.24,103, -3.15,58, -3.06,99, -3.93,63, -3.84,133, -3.75,118, -3.66,70,
  -3.57,73, -3.48,124, -3.39,68, -3.30,132, -3.21,92, -3.12,81, -3.03,66,
  -2.99,58, -2.97,103, -2.95,139, -2.94,72, -2.92,121, -2.90,148, -2.88,88, -2.86,54, -2.85,113, -2.83,131,
  -2.81,67, -2.79,97, -2.77,144, -2.76,79, -2.74,125, -2.72,59, -2.70,108, -2.68,136, -2.67,91, -2.65,150,
  -2.63,70, -2.61,117, -2.59,52, -2.58,129, -2.56,84, -2.54,142, -2.52,101, -2.50,63, -2.49,133, -2.47,76,
  -2.45,147, -2.44,55, -2.43,119, -2.41,91, -2.40,140, -2.38,69, -2.37,127, -2.35,108, -2.34,148, -2.32,82,
  -2.31,136, -2.29,99, -2.28,145, -2.26,122, -2.25,112, -2.23,140, -2.22,131, -2.20,149, -2.19,124, -2.17,144,
  -2.15,137, -2.13,150, -2.11,146, -2.10,142, -2.48,56, -2.46,61, -2.45,52, -2.41,60, -2.36,73, -2.33,87,
  -2.30,94, -2.27,103, -2.24,115, -2.21,128, -2.18,133, -2.21,118, -2.14,141, -2.17,129, -2.09,149, -2.96,83,
  -2.87,126, -2.78,62, -2.69,145, -2.60,98, -2.51,117, -2.53,72
];
const fcLogBlue = [
  -10.99,37, -10.84,45, -10.73,39, -10.68,47, -10.57,40, -10.45,41, -10.31,44, -10.28,37, -10.16,35, -10.11,44,
  -9.98,47, -9.96,35, -9.82,41, -9.75,37, -9.65,47, -9.59,39, -9.46,44, -9.30,47, -9.21,45, -9.10,37,
  -8.94,40, -8.99,45, -8.74,45, -8.62,37, -8.55,45, -8.48,37, -8.38,43, -8.28,47, -8.23,37, -8.19,41,
  -8.06,37, -7.98,35, -7.79,40, -7.69,37, -7.60,45, -7.47,47, -7.41,37, -7.28,37, -7.21,43, -7.05,47,
  -7.02,39, -6.86,47, -6.77,37, -6.60,39, -6.48,47, -6.47,35, -6.30,34, -6.21,45, -6.14,35, -6.01,47,
  -5.98,37, -5.81,37, -5.75,47, -5.65,39, -5.49,47, -5.39,37, -5.33,44, -5.30,37, -5.10,47, -5.06,39,
  -4.90,37, -4.86,47, -4.67,45, -4.55,37, -4.48,43, -4.32,41, -4.19,37, -4.06,45, -3.96,35, -3.89,47,
  -3.73,39, -3.60,47, -3.50,37, -3.40,35, -3.30,45, -3.21,39, -3.11,45, -2.95,45, -2.85,35, -2.79,37,
  -2.66,45, -2.56,43,
  -10.93,42, -10.78,43, -10.62,36, -10.50,46, -10.38,39, -10.22,46, -10.05,40, -9.90,44, -9.70,43, -9.52,36,
  -9.38,40, -9.25,37, -9.15,43, -9.04,36, -8.88,43, -8.80,38, -8.68,41, -8.42,41, -8.32,35, -8.12,44,
  -7.92,43, -7.85,36, -7.73,45, -7.54,41, -7.35,44, -7.15,36, -6.95,42, -6.90,36, -6.82,41, -6.55,42,
  -6.40,44, -6.25,38, -6.08,42, -5.92,45, -5.87,35, -5.70,42, -5.58,36, -5.55,45, -5.44,40, -5.22,41,
  -5.16,36, -5.00,43, -4.95,35, -4.78,41, -4.72,36, -4.62,43, -4.40,35, -4.25,46, -4.12,40, -3.82,42,
  -3.66,36, -3.55,42, -3.45,45, -3.35,40, -3.25,35, -3.16,36, -3.05,40, -3.00,35, -2.90,41, -2.72,40,
  -2.62,38, -2.51,44
];
const fcBest = [7.8e-4, 0.345];   // fc (mm/hr), MSE (mm²)

// k trials, k stored in 1e-4 1/hr
const kTickExps = [-4, -3, -2, -1, 0];
const kTitle = "Acceptable range: 0.0093004<k<0.021813";
const kBlack = [
  47,149, 48,150, 49,147, 48,145, 50,143, 50,149, 51,140, 51,146, 52,137, 52,146, 53,134, 53,142, 53,150,
  54,131, 55,139, 56,125, 55,147, 54,144, 56,134, 57,120, 58,129, 59,116, 57,138, 58,148, 59,141, 58,118, 59,132,
  60,112, 61,122, 62,106, 60,131, 61,144, 62,137, 61,108, 62,150, 60,126,
  63,102, 64,114, 65,98, 66,96, 63,125, 64,140, 65,133, 66,119, 65,148, 63,146, 66,108, 64,104,
  67,92, 68,101, 69,87, 70,86, 67,117, 68,130, 69,142, 70,110, 68,150, 69,124, 70,135, 67,104, 70,98,
  71,83, 72,95, 73,79, 74,77, 71,108, 72,120, 73,138, 74,101, 72,147, 73,116, 74,129, 71,133, 74,145, 73,90,
  75,74, 76,86, 77,68, 78,67, 75,97, 76,113, 77,127, 78,89, 76,141, 77,103, 78,119, 75,149, 78,136, 77,80, 75,123,
  79,65, 80,76, 81,60, 82,58, 79,94, 80,109, 81,122, 82,83, 80,139, 81,99, 82,115, 79,131, 82,148, 80,70, 81,144,
  83,55, 84,68, 85,51, 86,49, 83,86, 84,104, 85,118, 86,75, 84,135, 85,92, 86,128, 83,147, 86,111, 85,62, 84,142,
  87,50, 88,63, 89,53, 90,57, 87,79, 88,98, 89,114, 90,87, 88,131, 89,72, 90,122, 87,145, 90,106, 89,139, 88,150,
  91,49, 92,60, 93,52, 94,66, 91,84, 92,102, 93,117, 94,91, 92,126, 93,76, 94,137, 91,148, 94,110, 93,143,
  95,51, 96,56, 97,63, 98,49, 95,80, 96,96, 97,112, 98,87, 96,124, 97,74, 98,132, 95,141, 98,105, 97,149,
  99,54, 100,50, 101,61, 102,57, 99,77, 100,92, 101,108, 102,84, 100,121, 101,70, 102,135, 99,146, 102,99, 100,140, 101,128,
  103,49, 104,55, 105,64, 107,51, 103,81, 104,95, 106,113, 107,89, 104,127, 105,73, 107,138, 103,147, 106,104, 105,119, 106,150,
  108,53, 109,48, 110,59, 112,55, 108,76, 110,99, 111,115, 112,85, 109,125, 111,68, 112,136, 108,144, 110,108, 109,131,
  113,50, 114,57, 115,63, 117,52, 113,82, 114,97, 116,111, 117,90, 115,124, 116,72, 117,140, 113,148, 115,104, 114,133,
  118,55, 119,49, 120,60, 122,54, 118,78, 120,94, 121,110, 122,86, 119,120, 121,70, 122,134, 118,145, 120,101, 119,139, 121,150,
  123,51, 124,58, 125,49, 127,62, 123,75, 125,93, 126,107, 127,84, 124,118, 126,69, 127,129, 123,142, 125,100, 126,137, 124,149,
  128,54, 130,50, 131,57, 133,53, 128,81, 130,96, 132,113, 133,88, 129,123, 131,71, 133,132, 128,147, 130,106, 132,140,
  134,49, 136,56, 137,62, 139,51, 134,77, 136,92, 138,109, 139,85, 135,121, 137,68, 139,134, 134,143, 136,101, 138,127, 137,150,
  140,53, 142,48, 143,59, 145,55, 140,74, 142,97, 144,114, 145,83, 141,125, 143,70, 145,138, 140,146, 142,107, 144,130,
  146,50, 148,57, 150,52, 152,61, 146,79, 148,94, 150,110, 152,88, 147,119, 149,73, 151,132, 146,144, 149,103, 151,149, 150,126,
  153,54, 155,49, 157,58, 159,53, 153,76, 155,99, 157,115, 159,86, 154,124, 156,69, 158,136, 153,147, 156,107, 158,141,
  160,51, 162,57, 164,63, 166,55, 160,82, 162,96, 164,112, 166,90, 161,121, 163,72, 165,133, 160,145, 163,104, 165,150, 162,128,
  167,50, 169,56, 171,52, 173,60, 167,78, 169,93, 171,109, 173,85, 168,118, 170,70, 172,131, 167,143, 170,101, 172,139,
  174,54, 176,49, 178,58, 181,56, 174,75, 176,97, 179,113, 181,87, 175,124, 178,68, 180,135, 174,146, 177,105, 180,148, 176,129,
  182,51, 184,57, 187,62, 189,55, 182,80, 184,94, 187,111, 189,89, 183,120, 186,73, 188,132, 182,142, 185,103, 188,150,
  190,52, 192,58, 195,54, 197,61, 190,77, 193,99, 195,115, 197,86, 191,126, 194,70, 196,137, 190,145, 193,107, 196,148,
  198,55, 201,50, 204,59, 206,57, 199,79, 201,95, 204,112, 206,88, 200,122, 203,72, 205,134, 199,143, 202,104, 205,149, 203,128,
  207,56, 210,60, 213,58, 215,63, 208,81, 211,98, 213,113, 215,90, 209,125, 212,75, 214,137, 208,146, 211,106, 214,150,
  216,60, 219,64, 222,62, 224,67, 217,84, 220,100, 222,117, 224,92, 218,128, 221,78, 223,140, 217,147, 220,109,
  225,65, 228,69, 231,67, 234,71, 226,86, 229,103, 232,119, 234,95, 227,131, 230,80, 233,143, 226,149, 231,111,
  235,70, 238,74, 241,72, 244,76, 236,90, 239,106, 242,122, 244,98, 237,133, 240,84, 243,144, 238,150, 241,114,
  245,75, 249,79, 252,77, 255,81, 246,93, 250,108, 253,125, 255,101, 247,136, 251,88, 254,146, 248,117,
  256,80, 260,84, 263,82, 266,86, 257,97, 261,112, 264,127, 266,104, 258,138, 262,92, 265,148, 259,120,
  267,85, 271,89, 275,87, 278,91, 268,101, 272,116, 276,130, 278,108, 269,141, 273,96, 277,149, 270,123,
  279,90, 283,94, 287,92, 290,96, 280,106, 284,119, 288,133, 290,112, 281,143, 285,101, 289,150, 282,126,
  291,96, 295,99, 299,97, 303,102, 292,111, 296,124, 300,136, 303,116, 293,146, 297,106, 301,131,
  304,101, 308,105, 312,103, 316,107, 305,116, 309,128, 313,140, 316,121, 306,149, 310,111, 314,134,
  317,107, 322,110, 326,108, 330,112, 318,121, 323,132, 327,144, 330,126, 319,150, 324,116, 328,138,
  331,112, 336,115, 340,113, 344,117, 332,126, 337,137, 341,147, 344,131, 333,142, 338,121,
  345,118, 350,121, 355,119, 359,123, 346,131, 351,141, 356,149, 359,135, 347,145, 352,127,
  360,124, 366,127, 371,125, 375,129, 361,137, 367,146, 372,140, 375,150, 363,132,
  376,130, 382,133, 387,131, 391,135, 377,142, 383,149, 388,145, 380,138,
  392,136, 398,139, 403,137, 408,141, 393,147, 399,150, 404,146, 396,143,
  409,141, 415,144, 420,142, 426,146, 411,149, 417,150, 423,148,
  427,145, 434,147, 441,146, 448,149, 455,150, 438,150, 432,149,
  48,147, 49,150, 50,146, 51,143, 52,140, 52,149, 53,137, 54,128, 54,136, 54,150, 55,125, 55,133, 55,143,
  56,122, 56,129, 56,140, 56,148, 57,118, 57,126, 57,131, 57,145, 58,116, 58,123, 58,136, 58,142,
  59,113, 59,120, 59,127, 59,137, 59,146, 60,109, 60,116, 60,121, 60,136, 60,144, 61,106, 61,113, 61,118, 61,128, 61,139, 61,149,
  62,103, 62,111, 62,119, 62,126, 62,132, 62,144, 63,99, 63,106, 63,112, 63,118, 63,131, 63,138, 63,150,
  64,97, 64,101, 64,109, 64,121, 64,128, 64,135, 64,146, 65,95, 65,103, 65,111, 65,117, 65,125, 65,139, 65,143,
  66,93, 66,101, 66,113, 66,125, 66,131, 66,137, 66,149, 67,90, 67,96, 67,99, 67,110, 67,122, 67,128, 67,136, 67,145,
  68,88, 68,93, 68,97, 68,106, 68,114, 68,121, 68,135, 68,141, 69,85, 69,91, 69,95, 69,103, 69,109, 69,118, 69,130, 69,136, 69,148,
  70,83, 70,89, 70,94, 70,103, 70,116, 70,121, 70,128, 70,143, 71,80, 71,87, 71,92, 71,99, 71,103, 71,113, 71,121, 71,127, 71,140, 71,147,
  72,79, 72,83, 72,89, 72,100, 72,107, 72,113, 72,126, 72,134, 72,141, 73,77, 73,83, 73,86, 73,96, 73,104, 73,109, 73,123, 73,129, 73,133, 73,149,
  74,74, 74,81, 74,88, 74,94, 74,106, 74,115, 74,120, 74,135, 74,140, 75,72, 75,77, 75,82, 75,89, 75,102, 75,108, 75,117, 75,129, 75,136, 75,144,
  76,70, 76,75, 76,80, 76,93, 76,97, 76,106, 76,119, 76,125, 76,134, 76,147, 77,68, 77,74, 77,85, 77,90, 77,98, 77,109, 77,115, 77,122, 77,132, 77,140,
  78,66, 78,71, 78,78, 78,84, 78,95, 78,101, 78,110, 78,127, 78,143, 78,149, 79,63, 79,70, 79,77, 79,83, 79,89, 79,100, 79,107, 79,114, 79,122, 79,137, 79,144,
  80,62, 80,66, 80,82, 80,88, 80,96, 80,103, 80,117, 80,125, 80,132, 80,146, 81,60, 81,65, 81,71, 81,79, 81,86, 81,93, 81,106, 81,112, 81,127, 81,136, 81,150,
  82,58, 82,63, 82,69, 82,75, 82,90, 82,97, 82,104, 82,122, 82,129, 82,139, 83,56, 83,61, 83,67, 83,73, 83,80, 83,93, 83,99, 83,111, 83,117, 83,124, 83,139,
  84,54, 84,58, 84,63, 84,74, 84,81, 84,88, 84,96, 84,112, 84,120, 84,128, 84,148, 85,52, 85,56, 85,67, 85,71, 85,79, 85,86, 85,99, 85,107, 85,125, 85,134, 85,141,
  86,50, 86,55, 86,60, 86,67, 86,82, 86,88, 86,95, 86,104, 86,117, 86,136, 86,145,
  87,53, 87,58, 87,64, 87,71, 87,87, 87,95, 87,105, 87,111, 87,119, 87,128, 87,137, 88,50, 88,55, 88,68, 88,75, 88,82, 88,91, 88,106, 88,115, 88,122, 88,140, 88,145,
  89,49, 89,57, 89,61, 89,66, 89,79, 89,85, 89,94, 89,101, 89,108, 89,120, 89,127, 89,133, 89,147, 90,51, 90,54, 90,63, 90,70, 90,76, 90,81, 90,93, 90,99, 90,113, 90,117, 90,130, 90,140, 90,146,
  91,53, 91,58, 91,67, 91,73, 91,79, 91,91, 91,97, 91,105, 91,114, 91,121, 91,131, 91,139, 92,49, 92,55, 92,64, 92,69, 92,78, 92,86, 92,93, 92,110, 92,118, 92,134, 92,142, 92,150,
  93,55, 93,60, 93,66, 93,71, 93,82, 93,88, 93,96, 93,105, 93,111, 93,124, 93,129, 93,137, 94,50, 94,54, 94,60, 94,73, 94,80, 94,86, 94,97, 94,104, 94,118, 94,124, 94,130, 94,146,
  95,48, 95,55, 95,59, 95,66, 95,72, 95,88, 95,93, 95,101, 95,108, 95,115, 95,121, 95,134, 95,148, 96,51, 96,59, 96,64, 96,70, 96,77, 96,84, 96,90, 96,103, 96,110, 96,117, 96,131, 96,138, 96,145,
  97,49, 97,54, 97,58, 97,69, 97,79, 97,83, 97,96, 97,101, 97,107, 97,119, 97,126, 97,135, 97,142, 98,53, 98,56, 98,61, 98,67, 98,74, 98,80, 98,93, 98,99, 98,112, 98,119, 98,126, 98,139, 98,146,
  99,49, 99,59, 99,64, 99,69, 99,82, 99,89, 99,95, 99,103, 99,110, 99,116, 99,125, 99,131, 99,139, 100,53, 100,57, 100,63, 100,68, 100,75, 100,81, 100,87, 100,98, 100,104, 100,109, 100,115, 100,128, 100,134, 100,147,
  101,48, 101,52, 101,57, 101,66, 101,74, 101,83, 101,91, 101,97, 101,103, 101,116, 101,121, 101,133, 101,142, 101,150, 102,51, 102,55, 102,61, 102,67, 102,72, 102,78, 102,89, 102,94, 102,105, 102,111, 102,118, 102,124, 102,130, 102,143,
  103,53, 103,58, 103,62, 103,70, 103,76, 103,86, 103,92, 103,99, 103,104, 103,110, 103,116, 103,123, 103,133, 103,139, 104,49, 104,60, 104,66, 104,71, 104,79, 104,84, 104,90, 104,100, 104,107, 104,114, 104,121, 104,133, 104,142, 104,148,
  105,52, 105,55, 105,60, 105,68, 105,77, 105,82, 105,88, 105,95, 105,100, 105,108, 105,114, 105,126, 105,133, 105,143, 106,48, 106,53, 106,57, 106,62, 106,67, 106,75, 106,84, 106,93, 106,99, 106,109, 106,120, 106,125, 106,131, 106,144,
  107,55, 107,58, 107,63, 107,70, 107,77, 107,83, 107,95, 107,100, 107,111, 107,116, 107,123, 107,130, 107,146, 108,49, 108,57, 108,60, 108,68, 108,72, 108,81, 108,87, 108,93, 108,99, 108,105, 108,118, 108,129, 108,136, 108,150,
  109,52, 109,55, 109,62, 109,70, 109,79, 109,84, 109,91, 109,97, 109,111, 109,118, 109,137, 109,143, 110,50, 110,54, 110,64, 110,72, 110,77, 110,88, 110,94, 110,104, 110,113, 110,119, 110,127, 110,133, 110,147,
  111,53, 111,58, 111,62, 111,76, 111,81, 111,88, 111,93, 111,100, 111,107, 111,120, 111,127, 111,141, 111,149, 112,49, 112,52, 112,60, 112,65, 112,71, 112,79, 112,90, 112,96, 112,102, 112,110, 112,117, 112,125, 112,131, 112,144,
  113,54, 113,58, 113,63, 113,73, 113,78, 113,87, 113,93, 113,100, 113,108, 113,117, 113,122, 113,137, 113,141, 114,50, 114,54, 114,61, 114,69, 114,76, 114,84, 114,90, 114,104, 114,110, 114,118, 114,126, 114,139, 114,149,
  115,49, 115,53, 115,59, 115,68, 115,75, 115,80, 115,87, 115,98, 115,110, 115,115, 115,130, 115,137, 115,143, 116,52, 116,55, 116,61, 116,65, 116,78, 116,83, 116,93, 116,99, 116,106, 116,117, 116,121, 116,128, 116,135, 116,147,
  117,48, 117,56, 117,60, 117,66, 117,73, 117,79, 117,85, 117,95, 117,103, 117,108, 117,114, 117,125, 117,132, 117,146, 118,52, 118,58, 118,64, 118,71, 118,82, 118,89, 118,96, 118,101, 118,108, 118,115, 118,126, 118,133, 118,140,
  119,52, 119,56, 119,63, 119,69, 119,77, 119,84, 119,92, 119,103, 119,110, 119,116, 119,124, 119,129, 119,146, 120,48, 120,55, 120,66, 120,73, 120,80, 120,86, 120,97, 120,106, 120,112, 120,118, 120,125, 120,137, 120,148,
  121,51, 121,57, 121,61, 121,67, 121,77, 121,83, 121,92, 121,97, 121,104, 121,114, 121,124, 121,133, 121,142, 122,49, 122,57, 122,63, 122,70, 122,76, 122,83, 122,91, 122,99, 122,107, 122,114, 122,121, 122,129, 122,145,
  123,54, 123,58, 123,64, 123,70, 123,79, 123,88, 123,96, 123,104, 123,110, 123,114, 123,125, 123,131, 123,138, 124,49, 124,52, 124,62, 124,67, 124,72, 124,83, 124,89, 124,94, 124,102, 124,111, 124,123, 124,129, 124,144,
  125,53, 125,56, 125,61, 125,70, 125,78, 125,83, 125,89, 125,96, 125,105, 125,113, 125,121, 125,133, 125,147, 126,51, 126,55, 126,60, 126,66, 126,74, 126,79, 126,90, 126,98, 126,103, 126,113, 126,125, 126,130, 126,143,
  127,49, 127,53, 127,58, 127,67, 127,72, 127,79, 127,91, 127,98, 127,108, 127,116, 127,122, 127,134, 127,141, 127,150, 129,49, 129,52, 129,60, 129,65, 129,72, 129,78, 129,86, 129,95, 129,101, 129,109, 129,116, 129,129, 129,138, 129,143,
  130,55, 130,59, 130,66, 130,75, 130,84, 130,90, 130,101, 130,113, 130,120, 130,126, 130,134, 130,146, 131,50, 131,54, 131,63, 131,67, 131,78, 131,83, 131,91, 131,99, 131,109, 131,119, 131,127, 131,137, 131,145,
  132,52, 132,56, 132,64, 132,74, 132,79, 132,86, 132,95, 132,103, 132,108, 132,118, 132,125, 132,134, 132,147, 133,49, 133,57, 133,61, 133,68, 133,76, 133,81, 133,93, 133,100, 133,111, 133,117, 133,124, 133,143,
  135,49, 135,53, 135,59, 135,64, 135,72, 135,79, 135,86, 135,93, 135,103, 135,110, 135,116, 135,129, 135,136, 135,148, 136,51, 136,60, 136,66, 136,72, 136,82, 136,87, 136,97, 136,105, 136,112, 136,118, 136,132, 136,140,
  137,54, 137,58, 137,64, 137,74, 137,79, 137,89, 137,95, 137,104, 137,114, 137,122, 137,131, 137,139, 137,145, 138,49, 138,54, 138,61, 138,66, 138,73, 138,80, 138,89, 138,99, 138,105, 138,116, 138,122, 138,134, 138,144,
  139,55, 139,60, 139,65, 139,71, 139,78, 139,92, 139,97, 139,106, 139,111, 139,120, 139,128, 139,140, 139,148, 140,50, 140,56, 140,62, 140,68, 140,79, 140,85, 140,91, 140,101, 140,109, 140,115, 140,121, 140,134, 140,141,
  141,52, 141,58, 141,65, 141,70, 141,77, 141,88, 141,94, 141,104, 141,113, 141,118, 141,131, 141,138, 141,149, 142,51, 142,55, 142,64, 142,68, 142,75, 142,83, 142,91, 142,102, 142,112, 142,121, 142,127, 142,135, 142,143,
  143,51, 143,56, 143,63, 143,74, 143,80, 143,87, 143,94, 143,99, 143,108, 143,117, 143,125, 143,140, 143,147, 144,49, 144,53, 144,61, 144,66, 144,73, 144,80, 144,88, 144,96, 144,104, 144,119, 144,125, 144,136, 144,145,
  146,54, 146,59, 146,65, 146,71, 146,76, 146,86, 146,92, 146,98, 146,108, 146,114, 146,123, 146,130, 146,138, 146,150, 147,50, 147,56, 147,61, 147,68, 147,74, 147,82, 147,90, 147,97, 147,105, 147,112, 147,127, 147,134, 147,146,
  148,49, 148,54, 148,63, 148,69, 148,77, 148,84, 148,90, 148,99, 148,109, 148,116, 148,125, 148,132, 148,141, 149,52, 149,58, 149,62, 149,68, 149,79, 149,86, 149,95, 149,107, 149,114, 149,121, 149,128, 149,137, 149,146,
  150,49, 150,56, 150,61, 150,67, 150,75, 150,82, 150,89, 150,97, 150,104, 150,117, 150,122, 150,136, 150,143, 151,53, 151,57, 151,64, 151,70, 151,78, 151,85, 151,92, 151,100, 151,108, 151,115, 151,126, 151,139, 151,145,
  152,49, 152,53, 152,58, 152,66, 152,74, 152,82, 152,93, 152,101, 152,112, 152,122, 152,129, 152,136, 152,148, 154,51, 154,56, 154,62, 154,67, 154,74, 154,81, 154,88, 154,95, 154,103, 154,111, 154,118, 154,131, 154,141, 154,149,
  155,53, 155,58, 155,64, 155,70, 155,78, 155,86, 155,93, 155,106, 155,112, 155,119, 155,128, 155,136, 155,145, 156,49, 156,54, 156,60, 156,64, 156,74, 156,80, 156,89, 156,96, 156,102, 156,113, 156,120, 156,129, 156,139, 156,146,
  157,51, 157,55, 157,63, 157,71, 157,77, 157,83, 157,91, 157,100, 157,108, 157,121, 157,127, 157,133, 157,144, 158,49, 158,53, 158,61, 158,66, 158,72, 158,80, 158,89, 158,95, 158,103, 158,111, 158,118, 158,129, 158,148,
  159,50, 159,57, 159,62, 159,69, 159,75, 159,81, 159,91, 159,98, 159,108, 159,117, 159,126, 159,133, 159,143, 161,50, 161,55, 161,60, 161,68, 161,77, 161,86, 161,93, 161,101, 161,109, 161,116, 161,126, 161,133, 161,140, 161,148,
  162,49, 162,53, 162,63, 162,68, 162,75, 162,85, 162,91, 162,100, 162,108, 162,116, 162,122, 162,134, 162,146, 163,52, 163,56, 163,61, 163,67, 163,78, 163,88, 163,94, 163,100, 163,111, 163,117, 163,123, 163,137, 163,142,
  164,48, 164,53, 164,58, 164,68, 164,75, 164,83, 164,92, 164,99, 164,106, 164,120, 164,126, 164,139, 164,149, 166,50, 166,60, 166,67, 166,72, 166,80, 166,86, 166,96, 166,104, 166,110, 166,117, 166,124, 166,131, 166,138, 166,145,
  168,50, 168,54, 168,62, 168,68, 168,75, 168,84, 168,90, 168,97, 168,106, 168,113, 168,126, 168,134, 168,141, 168,149, 169,52, 169,60, 169,66, 169,73, 169,80, 169,87, 169,98, 169,104, 169,111, 169,122, 169,128, 169,136, 169,145,
  170,49, 170,55, 170,62, 170,67, 170,76, 170,82, 170,91, 170,96, 170,106, 170,115, 170,121, 170,133, 170,142, 170,150, 171,54, 171,59, 171,64, 171,72, 171,81, 171,89, 171,97, 171,103, 171,113, 171,124, 171,129, 171,138, 171,147,
  173,49, 173,55, 173,64, 173,70, 173,77, 173,89, 173,94, 173,105, 173,111, 173,120, 173,127, 173,134, 173,144, 175,52, 175,57, 175,62, 175,69, 175,78, 175,84, 175,92, 175,100, 175,109, 175,117, 175,130, 175,139, 175,148,
  176,55, 176,60, 176,67, 176,74, 176,81, 176,89, 176,101, 176,110, 176,118, 176,123, 176,136, 176,143, 177,50, 177,54, 177,62, 177,71, 177,78, 177,87, 177,93, 177,99, 177,112, 177,121, 177,128, 177,139, 177,150,
  179,51, 179,56, 179,63, 179,70, 179,77, 179,85, 179,91, 179,100, 179,106, 179,119, 179,125, 179,132, 179,142, 180,53, 180,59, 180,66, 180,74, 180,82, 180,92, 180,103, 180,111, 180,118, 180,129, 180,142,
  183,50, 183,55, 183,62, 183,68, 183,75, 183,86, 183,93, 183,99, 183,107, 183,114, 183,126, 183,137, 183,146, 184,52, 184,60, 184,66, 184,72, 184,80, 184,89, 184,98, 184,108, 184,115, 184,124, 184,133, 184,144,
  186,49, 186,55, 186,62, 186,67, 186,79, 186,85, 186,91, 186,97, 186,107, 186,117, 186,124, 186,138, 186,149, 187,52, 187,58, 187,67, 187,75, 187,82, 187,94, 187,102, 187,114, 187,121, 187,127, 187,140, 187,146,
  189,50, 189,60, 189,66, 189,72, 189,79, 189,84, 189,95, 189,100, 189,108, 189,119, 189,129, 189,136, 189,147, 191,51, 191,56, 191,61, 191,69, 191,78, 191,85, 191,93, 191,105, 191,111, 191,118, 191,132, 191,140,
  192,50, 192,54, 192,64, 192,72, 192,82, 192,91, 192,97, 192,103, 192,114, 192,122, 192,130, 192,144, 194,52, 194,58, 194,63, 194,75, 194,80, 194,88, 194,94, 194,101, 194,112, 194,120, 194,126, 194,141, 194,150,
  195,50, 195,58, 195,65, 195,71, 195,79, 195,92, 195,98, 195,107, 195,121, 195,130, 195,139, 195,145, 197,51, 197,55, 197,67, 197,74, 197,81, 197,90, 197,96, 197,105, 197,111, 197,118, 197,127, 197,134, 197,143,
  199,50, 199,57, 199,63, 199,70, 199,84, 199,91, 199,98, 199,108, 199,116, 199,125, 199,131, 199,150, 200,52, 200,59, 200,66, 200,75, 200,82, 200,88, 200,97, 200,103, 200,112, 200,117, 200,129, 200,138, 200,146,
  202,50, 202,55, 202,62, 202,68, 202,77, 202,85, 202,92, 202,99, 202,109, 202,116, 202,124, 202,133, 202,140, 204,53, 204,64, 204,70, 204,78, 204,85, 204,95, 204,104, 204,118, 204,125, 204,137, 204,146,
  205,51, 205,57, 205,62, 205,67, 205,76, 205,83, 205,92, 205,99, 205,109, 205,114, 205,122, 205,141,
  208,53, 208,58, 208,66, 208,73, 208,87, 208,94, 208,101, 208,110, 208,119, 208,131, 208,139, 210,52, 210,56, 210,68, 210,79, 210,85, 210,92, 210,113, 210,120, 210,129, 210,144,
  212,55, 212,61, 212,70, 212,81, 212,89, 212,96, 212,103, 212,117, 212,133, 212,141, 214,57, 214,63, 214,72, 214,78, 214,86, 214,99, 214,109, 214,121, 214,128, 214,145,
  217,58, 217,66, 217,74, 217,89, 217,96, 217,104, 217,113, 217,122, 217,135, 219,60, 219,69, 219,76, 219,84, 219,93, 219,108, 219,117, 219,125, 219,139, 219,149,
  221,61, 221,67, 221,83, 221,88, 221,96, 221,104, 221,115, 221,123, 221,133, 221,145, 223,63, 223,70, 223,77, 223,86, 223,98, 223,111, 223,121, 223,129, 223,148,
  226,64, 226,71, 226,79, 226,93, 226,99, 226,108, 226,116, 226,125, 226,138, 228,66, 228,74, 228,83, 228,89, 228,97, 228,111, 228,121, 228,134, 228,145,
  230,67, 230,72, 230,86, 230,94, 230,106, 230,116, 230,127, 230,137, 230,148, 233,68, 233,75, 233,82, 233,90, 233,100, 233,108, 233,115, 233,129, 233,138,
  236,70, 236,78, 236,84, 236,96, 236,101, 236,112, 236,121, 236,127, 236,146, 239,71, 239,78, 239,88, 239,96, 239,112, 239,119, 239,128, 239,139, 239,147,
  242,73, 242,79, 242,86, 242,93, 242,104, 242,115, 242,131, 242,138, 245,74, 245,82, 245,89, 245,98, 245,105, 245,113, 245,121, 245,131, 245,141, 245,149,
  248,76, 248,84, 248,91, 248,100, 248,110, 248,124, 248,132, 248,143, 251,77, 251,83, 251,95, 251,103, 251,112, 251,119, 251,128, 251,139, 251,147,
  254,79, 254,86, 254,93, 254,105, 254,116, 254,131, 254,140, 257,80, 257,88, 257,94, 257,106, 257,114, 257,127, 257,134, 257,145,
  260,81, 260,89, 260,99, 260,108, 260,118, 260,124, 260,141, 260,150, 263,83, 263,90, 263,101, 263,110, 263,121, 263,131, 263,143,
  266,84, 266,93, 266,98, 266,113, 266,123, 266,135, 266,146, 269,86, 269,92, 269,104, 269,115, 269,128, 269,136, 269,149,
  272,87, 272,96, 272,106, 272,121, 272,133, 272,144, 275,88, 275,98, 275,109, 275,118, 275,125, 275,138, 275,147,
  278,89, 278,98, 278,114, 278,122, 278,136, 278,145, 282,91, 282,100, 282,111, 282,120, 282,131, 282,140, 282,149,
  286,93, 286,101, 286,113, 286,126, 286,139, 286,147, 290,94, 290,103, 290,118, 290,124, 290,137, 290,143,
  294,96, 294,106, 294,116, 294,129, 294,140, 294,150, 298,98, 298,110, 298,121, 298,133, 298,142,
  302,99, 302,108, 302,124, 302,129, 302,146, 306,102, 306,111, 306,122, 306,136, 306,143,
  310,103, 310,117, 310,126, 310,139, 310,148, 314,105, 314,114, 314,128, 314,144, 318,107, 318,116, 318,131, 318,141, 318,148,
  322,108, 322,119, 322,127, 322,138, 322,147, 326,110, 326,118, 326,133, 326,143, 330,111, 330,121, 330,136, 330,149,
  335,113, 335,123, 335,132, 335,144, 340,115, 340,128, 340,139, 340,146, 345,117, 345,126, 345,137, 345,148,
  350,119, 350,132, 350,143, 355,121, 355,129, 355,140, 355,147, 361,123, 361,131, 361,143, 366,125, 366,136, 366,149,
  372,127, 372,134, 372,145, 378,129, 378,140, 378,147, 384,131, 384,141, 390,133, 390,144, 390,150,
  396,136, 396,146, 402,138, 402,148, 408,139, 408,145, 414,141, 414,149, 421,143, 421,148, 428,145, 436,147, 444,148, 452,150,
  // sparse runs to the right of the main cloud
  244,53, 229,58, 259,63, 274,70, 292,76, 328,70, 313,82, 340,78, 372,94, 393,86,
  418,97, 457,94, 457,107, 500,107, 487,114, 406,109, 445,120, 533,117, 599,120, 638,114,
  562,132, 655,130, 805,125, 615,140, 717,143, 805,147, 914,140, 939,145, 533,145, 500,135,
  457,132, 382,101, 673,117, 920,134, 236,60, 250,66, 266,74, 282,80, 300,86, 318,90,
  336,97, 355,104, 372,110, 390,115, 410,121, 430,126, 470,133, 520,140, 560,145, 480,120,
  450,110, 420,104, 400,100, 360,88, 345,82, 310,75, 290,70, 270,66, 255,58
];
const kBlue = [
  86,46, 88,43, 90,47, 92,41, 94,45, 96,39, 98,43, 100,47, 102,38, 104,42, 106,36, 108,45,
  110,39, 112,35, 114,43, 116,37, 118,47, 120,35, 122,40, 124,44, 126,36, 128,39, 130,46, 132,35,
  134,41, 136,37, 138,44, 140,35, 142,39, 144,47, 146,36, 148,42, 150,38, 152,45, 154,35, 156,40,
  158,37, 160,46, 162,36, 164,42, 166,39, 168,47, 170,36, 172,43, 174,38, 176,45, 178,37, 181,41,
  184,46, 187,38, 190,43, 193,40, 196,46, 198,39, 201,44, 205,42, 209,46, 213,44, 218,47, 222,45,
  226,44, 200,36, 185,35, 125,46, 145,46
];
const kBest = [0.0133, 0.345];   // k (1/hr), MSE (mm²)

// ---------------------------------------------------------------------------
// Drawing
// ---------------------------------------------------------------------------
const plotLeft = 89, plotRight = 1113;
const svg = d3.select("#chart");

function toPoints(flat, toX) {
  const pts = [];
  for (let i = 0; i < flat.length; i += 2) pts.push({ x: toX(flat[i]), y: flat[i + 1] * MSE_UNIT });
  return pts;
}

const panels = [
  {
    top: 71, bottom: 263, domain: [1e-2, 1], tickExps: foTickExps, minor: true,
    titles: [{ text: "Pond 1", y: 22 }, { text: foTitle, y: 51 }],
    tickLabelDy: 31, xlabel: "fo (mm/hr)", xlabelY: 318,
    black: toPoints(foBlack, v => v * 1e-3), blue: toPoints(foBlue, v => v * 1e-3), best: foBest
  },
  {
    top: 367, bottom: 560, domain: [1e-11, 1e-1], tickExps: fcTickExps, minor: false,
    titles: [{ text: fcTitle, y: 346 }],
    tickLabelDy: 32, xlabel: "fc (mm/hr)", xlabelY: 616,
    black: toPoints(fcLogBlack, v => Math.pow(10, v)), blue: toPoints(fcLogBlue, v => Math.pow(10, v)), best: fcBest
  },
  {
    top: 664, bottom: 858, domain: [1e-4, 1], tickExps: kTickExps, minor: true,
    titles: [{ text: kTitle, y: 644 }],
    tickLabelDy: 32, xlabel: "k (1/hr)", xlabelY: 915,
    black: toPoints(kBlack, v => v * 1e-4), blue: toPoints(kBlue, v => v * 1e-4), best: kBest
  }
];

const FONT = 22, SUP = 15;
const star = d3.symbol().type(d3.symbolStar).size(90);

panels.forEach(p => {
  const x = d3.scaleLog().domain(p.domain).range([plotLeft, plotRight]);
  const y = d3.scaleLinear().domain([0, 1.5]).range([p.bottom, p.top]);
  const g = svg.append("g");

  // all trials
  g.append("g").selectAll("circle").data(p.black).join("circle")
    .attr("cx", d => x(d.x)).attr("cy", d => y(d.y)).attr("r", 6.4)
    .attr("fill", "none").attr("stroke", "#000").attr("stroke-width", 1);

  // best trial
  g.append("path").attr("d", star)
    .attr("transform", `translate(${x(p.best[0])},${y(p.best[1])})`)
    .attr("fill", "none").attr("stroke", "#ff0000").attr("stroke-width", 1);

  // acceptable trials
  g.append("g").selectAll("circle").data(p.blue).join("circle")
    .attr("cx", d => x(d.x)).attr("cy", d => y(d.y)).attr("r", 7.4)
    .attr("fill", "#0000ff").attr("stroke", "#0000ff").attr("stroke-width", 0.6);

  // axes box with inward ticks on all sides
  const majors = p.tickExps.map(e => Math.pow(10, e));
  const lo = Math.round(Math.log10(p.domain[0])), hi = Math.round(Math.log10(p.domain[1]));
  const minors = [];
  if (p.minor) for (let e = lo; e < hi; e++) for (let m = 2; m <= 9; m++) minors.push(m * Math.pow(10, e));

  const axes = [
    [d3.axisBottom(x).tickValues(majors).tickSize(-9), `translate(0,${p.bottom})`],
    [d3.axisTop(x).tickValues(majors).tickSize(-9), `translate(0,${p.top})`],
    [d3.axisLeft(y).tickValues(yTickValues).tickSize(-9), `translate(${plotLeft},0)`],
    [d3.axisRight(y).tickValues(yTickValues).tickSize(-9), `translate(${plotRight},0)`]
  ];
  if (p.minor) {
    axes.push([d3.axisBottom(x).tickValues(minors).tickSize(-5), `translate(0,${p.bottom})`]);
    axes.push([d3.axisTop(x).tickValues(minors).tickSize(-5), `translate(0,${p.top})`]);
  }
  axes.forEach(([ax, tr]) => {
    g.append("g").attr("transform", tr)
      .call(ax.tickSizeOuter(0).tickFormat(""))
      .call(s => s.selectAll("text").remove())
      .call(s => s.selectAll("path,line").attr("stroke", "#000"));
  });

  // y tick labels
  g.append("g").selectAll("text").data(yTickValues).join("text")
    .attr("x", plotLeft - 7).attr("y", d => y(d) + 8)
    .attr("text-anchor", "end").attr("font-size", FONT)
    .text((d, i) => yTickLabels[i]);

  // x tick labels: 10 with a raised exponent
  g.append("g").selectAll("text").data(p.tickExps).join("text")
    .attr("x", e => x(Math.pow(10, e))).attr("y", p.bottom + p.tickLabelDy)
    .attr("text-anchor", "middle").attr("font-size", FONT)
    .each(function (e) {
      const t = d3.select(this);
      t.append("tspan").text("10");
      t.append("tspan").attr("dy", -11).attr("font-size", SUP).text(String(e));
    });

  // titles and x label
  p.titles.forEach(t => {
    g.append("text").attr("x", (plotLeft + plotRight) / 2).attr("y", t.y)
      .attr("text-anchor", "middle").attr("font-size", FONT).text(t.text);
  });
  g.append("text").attr("x", (plotLeft + plotRight) / 2).attr("y", p.xlabelY)
    .attr("text-anchor", "middle").attr("font-size", FONT).text(p.xlabel);
});

// shared y label
const yl = svg.append("text")
  .attr("transform", "translate(37,451) rotate(-90)")
  .attr("text-anchor", "middle").attr("font-size", 24);
yl.append("tspan").text("Mean Squared Error (mm");
yl.append("tspan").attr("dy", -10).attr("font-size", 16).text("2");
yl.append("tspan").attr("dy", 10).text(")");
</script>
</body>
</html>
